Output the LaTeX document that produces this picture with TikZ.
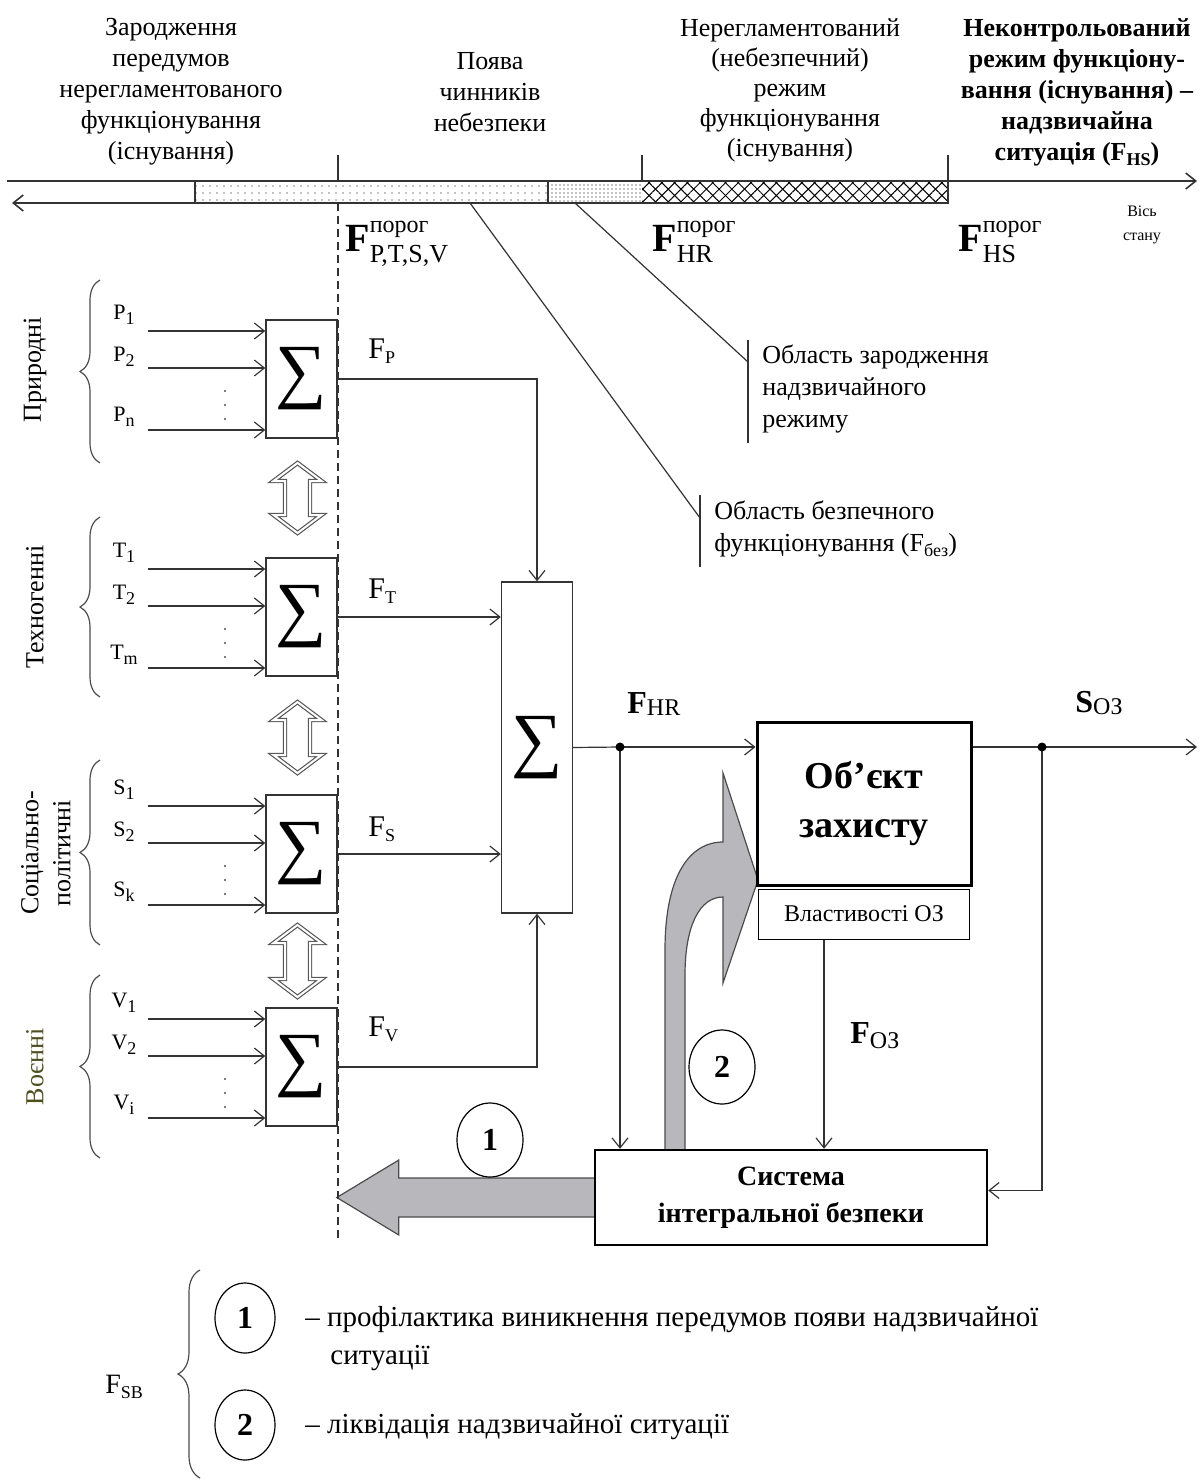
\documentclass[tikz,border=0pt]{standalone}
\usepackage{fontspec}
\setmainfont{Liberation Serif}
\usetikzlibrary{positioning, arrows.meta, shapes.geometric, calc, backgrounds, patterns.meta, decorations.pathreplacing}
\definecolor{olivetext}{RGB}{78,78,32}
\definecolor{bigarrow}{RGB}{184,184,188}
\newcommand{\lowidx}[1]{\raisebox{-2.5pt}{\fontsize{9}{9}\selectfont #1}}

\begin{document}
\begin{tikzpicture}[
    x=0.5pt, y=-0.5pt,
    >={Straight Barb[length=5pt,width=8pt]},
    font=\fontsize{12}{15.5}\selectfont,
    line/.style={line width=0.6pt, draw=black!80},
    arrow/.style={line, ->},
    sumbox/.style={draw=black!80, line width=0.7pt, fill=white,
        minimum width=35.5pt, minimum height=59pt, inner sep=0pt,
        font=\fontsize{36}{36}\selectfont},
    bigbox/.style={draw, fill=white, align=center, inner sep=0pt},
    title/.style={align=center, font=\fontsize{13}{15.5}\selectfont},
    thresh/.style={anchor=base west, inner sep=0pt, font=\fontsize{20}{20}\selectfont},
    flow/.style={anchor=base west, inner sep=0pt, font=\fontsize{15}{15}\selectfont},
    inlabel/.style={inner sep=0pt, font=\fontsize{11}{11}\selectfont},
    group/.style={rotate=90, align=center, font=\fontsize{13}{16}\selectfont},
    grpbrace/.style={line width=0.6pt, draw=black!70, decorate, decoration={brace, amplitude=10pt}},
    num/.style={draw, ellipse, line width=0.6pt, fill=white, minimum width=33pt, minimum height=37pt,
        inner sep=0pt, font=\fontsize{16}{16}\selectfont\bfseries},
    dblarr/.style={draw=black!65, double=white, double distance=1pt, line width=0.6pt},
    dot/.style={circle, fill, inner sep=0pt, minimum size=4.5pt},
    region/.style={anchor=west, align=left, inner sep=0pt, font=\fontsize{13}{16}\selectfont},
]
\useasboundingbox (0,0) rectangle (1202,1481);

% ============ STATE AXIS ============
\fill[pattern={Dots[radius=0.35pt, distance=3.5pt]}] (195,181) rectangle (548,203);
\fill[pattern={Dots[radius=0.35pt, distance=2pt]}]   (548,181) rectangle (642,203);
\fill[pattern={Lines[angle=45, distance=4.5pt, line width=0.5pt]}]  (642,181) rectangle (948,203);
\fill[pattern={Lines[angle=-45, distance=4.5pt, line width=0.5pt]}] (642,181) rectangle (948,203);
\draw[line, line width=0.8pt] (195,181) rectangle (948,203);
\draw[line] (548,181) -- (548,203);

\coordinate (axStart) at (7,181);
\coordinate (axR)     at (1197,181);
\coordinate (axEnd)   at (948,203);
\coordinate (axL)     at (12,203);
\draw[arrow, line width=0.8pt] (axStart) -- (axR);
\draw[arrow, line width=0.8pt] (axEnd) -- (axL);

% ticks and dashed threshold line
\foreach \x in {338,642,948}
    \draw[line] (\x,155) -- (\x,181);
\draw[line, dash pattern=on 4pt off 2.5pt] (338,203) -- (338,1240);

% ============ TITLES ============
\node[title] (tPre)  at (171,92)  {Зародження\\передумов\\нерегламентованого\\функціонування\\(існування)};
\node[title] (tHaz)  at (490,92)  {Поява\\чинників\\небезпеки};
\node[title, font=\fontsize{13}{15}\selectfont] (tIrr) at (790,90)
    {Нерегламентований\\(небезпечний)\\режим\\функціонування\\(існування)};
\node[title, font=\fontsize{13}{15.5}\selectfont\bfseries] (tEm) at (1077,92.5)
    {Неконтрольований\\режим функціону-\\вання (існування) –\\надзвичайна\\ситуація (F\lowidx{HS})};

\node[thresh] (thPTSV) at (345,252) {\textbf{F}\rlap{\raisebox{9.5pt}{\fontsize{12}{12}\selectfont порог}}\raisebox{-5.5pt}{\fontsize{13}{13}\selectfont P,T,S,V}};
\node[thresh] (thHR)   at (652,252) {\textbf{F}\rlap{\raisebox{9.5pt}{\fontsize{12}{12}\selectfont порог}}\raisebox{-5.5pt}{\fontsize{13}{13}\selectfont HR}};
\node[thresh] (thHS)   at (958,252) {\textbf{F}\rlap{\raisebox{9.5pt}{\fontsize{12}{12}\selectfont порог}}\raisebox{-5.5pt}{\fontsize{13}{13}\selectfont HS}};
\node[align=center, font=\fontsize{8}{12}\selectfont] (axName) at (1142,225) {Вісь\\стану};

% ============ REGION LEADERS ============
\coordinate (safeA) at (470,203);
\coordinate (safeB) at (700,518);
\coordinate (emA)   at (575,203);
\coordinate (emB)   at (748,362);
\draw[line] (safeA) -- (safeB);
\draw[line] (emA) -- (emB);
\draw[line, line width=1pt] (700,495) -- (700,567);
\draw[line, line width=1pt] (748,340) -- (748,443);
\node[region] (safeTxt) at (714,529) {Область безпечного\\функціонування (F\lowidx{без})};
\node[region] (emTxt)   at (762,389) {Область зародження\\надзвичайного\\режиму};

% ============ FACTOR GROUPS ============
\foreach \nm/\cy/\k in {P/379/n, T/617/m, S/854/k, V/1067/i} {
    \node[sumbox] (sum\nm) at (301.5,\cy) {∑};
    \coordinate (in\nm a) at (148,{\cy-48});
    \coordinate (in\nm b) at (148,{\cy-11});
    \coordinate (in\nm c) at (148,{\cy+51});
    \draw[arrow] (in\nm a) -- (in\nm a -| sum\nm.west);
    \draw[arrow] (in\nm b) -- (in\nm b -| sum\nm.west);
    \draw[arrow] (in\nm c) -- (in\nm c -| sum\nm.west);
    \node[inlabel] at (124,{\cy-64}) {\nm\lowidx{1}};
    \node[inlabel] at (124,{\cy-22}) {\nm\lowidx{2}};
    \node[inlabel] at (124,{\cy+38}) {\nm\lowidx{\k}};
    \foreach \d in {12,26,40}
        \fill[black!70] (225,{\cy+\d}) circle (0.6pt);
}

\draw[grpbrace] (100,463)  -- (100,280);
\draw[grpbrace] (100,697)  -- (100,517);
\draw[grpbrace] (100,945)  -- (100,760);
\draw[grpbrace] (100,1158) -- (100,975);

\node[group] (gNat)  at (35,370)  {Природні};
\node[group] (gTech) at (35,607)  {Техногенні};
\node[group] (gSoc)  at (46,853)  {Соціально-\\політичні};
\node[group, text=olivetext] (gMil) at (35,1067) {Воєнні};

% hollow two-way arrows between groups
\foreach \ya/\yb in {463/533, 702/773, 925/997}
    \draw[dblarr] (297.5,\ya) -- ++(24,18) -- ++(-11.5,0) -- (310,{\yb-18}) -- ++(11.5,0)
        -- (297.5,\yb) -- ++(-24,-18) -- ++(11.5,0) -- (285,{\ya+18}) -- ++(-11.5,0) -- cycle;

% ============ AGGREGATION ============
\node[sumbox, minimum height=165.5pt] (sumAll) at (537,747.5) {∑};

\draw[arrow] (sumP.east) -| (sumAll.north);
\draw[arrow] (sumT.east) -- (sumT.east -| sumAll.west);
\draw[arrow] (sumS.east) -- (sumS.east -| sumAll.west);
\draw[arrow] (sumV.east) -| (sumAll.south);

\node[flow] (lP) at (368,358)  {F\lowidx{P}};
\node[flow] (lT) at (368,598)  {F\lowidx{T}};
\node[flow] (lS) at (368,836)  {F\lowidx{S}};
\node[flow] (lV) at (368,1036) {F\lowidx{V}};

% ============ OBJECT AND SECURITY SYSTEM ============
\node[bigbox, line width=1.5pt, minimum width=107pt, minimum height=81.5pt,
      font=\fontsize{19}{24.5}\selectfont\bfseries] (obj) at (864,803.5) {Об’єкт\\захисту};
\node[bigbox, line width=0.6pt, minimum width=105.5pt, minimum height=25pt, below=1pt of obj]
    (props) {Властивості ОЗ};
\node[bigbox, line width=1.2pt, minimum width=196pt, minimum height=47.5pt,
      font=\fontsize{14}{18.5}\selectfont\bfseries] (sys) at (791,1197.5) {Система\\інтегральної безпеки};

\coordinate (hr)   at (620,747);
\coordinate (so)   at (1042,747);
\coordinate (outR) at (1197,747);
\coordinate (fo)   at ($(props.south)+(-40,0)$);

\draw[line]  (sumAll.east) -- (hr);
\draw[arrow] (hr) -- (hr -| obj.west);
\draw[line]  (hr -| obj.east) -- (so);
\draw[arrow] (so) -- (outR);
\draw[arrow] (hr) -- (hr |- sys.north);
\draw[arrow] (fo) -- (fo |- sys.north);
\draw[arrow] (so) |- ($(sys.east)+(0,-7)$);
\node[dot] at (hr) {};
\node[dot] at (so) {};

\node[anchor=base west, inner sep=0pt] (lHR) at (627,713)
    {{\fontsize{16}{16}\selectfont\bfseries F}\raisebox{-1pt}{\fontsize{12}{12}\selectfont HR}};
\node[anchor=base west, inner sep=0pt] (lSO) at (1075,712)
    {{\fontsize{16}{16}\selectfont\bfseries S}\raisebox{-1pt}{\fontsize{12}{12}\selectfont ОЗ}};
\node[anchor=base west, inner sep=0pt] (lFO) at (850,1043)
    {{\fontsize{16}{16}\selectfont\bfseries F}\raisebox{-2.5pt}{\fontsize{12}{12}\selectfont ОЗ}};

% big gray control arrows
\begin{pgfonlayer}{background}
    \filldraw[fill=bigarrow, draw=black!70, line width=0.6pt]
        (sys.west) ++(0,-19.5) -- ++(-195,0) -- ++(0,-18) -- ++(-62,37.5) -- ++(62,37.5)
        -- ++(0,-18) -- ++(195,0);
    \filldraw[fill=bigarrow, draw=black!70, line width=0.6pt]
        (665,1150) -- (665,950) .. controls (665,875) and (690,842) .. (723,842)
        -- (723,773) -- (758,880) -- (723,983) -- (723,897)
        .. controls (700,897) and (685,925) .. (685,975) -- (685,1150);
\end{pgfonlayer}

\node[num] (c1) at (490,1140) {1};
\node[num] (c2) at (722,1067) {2};

% ============ LEGEND ============
\draw[grpbrace, decoration={brace, amplitude=11pt}] (200,1478) -- (200,1270);
\node[anchor=base west, inner sep=0pt, font=\fontsize{14}{14}\selectfont] (lSB) at (105,1393) {F\lowidx{SB}};
\node[num, minimum width=30pt, minimum height=35pt] (lc1) at (245,1318) {1};
\node[num, minimum width=30pt, minimum height=35pt] (lc2) at (245,1425) {2};
\node[anchor=west, inner sep=0pt, font=\fontsize{14.5}{14.5}\selectfont] (lt1) at (305,1320)
    {– профілактика виникнення передумов появи надзвичайної};
\node[anchor=west, inner sep=0pt, font=\fontsize{14.5}{14.5}\selectfont] (lt1b) at (330,1358) {ситуації};
\node[anchor=west, inner sep=0pt, font=\fontsize{14.5}{14.5}\selectfont] (lt2) at (305,1427)
    {– ліквідація надзвичайної ситуації};

\end{tikzpicture}
\end{document}
